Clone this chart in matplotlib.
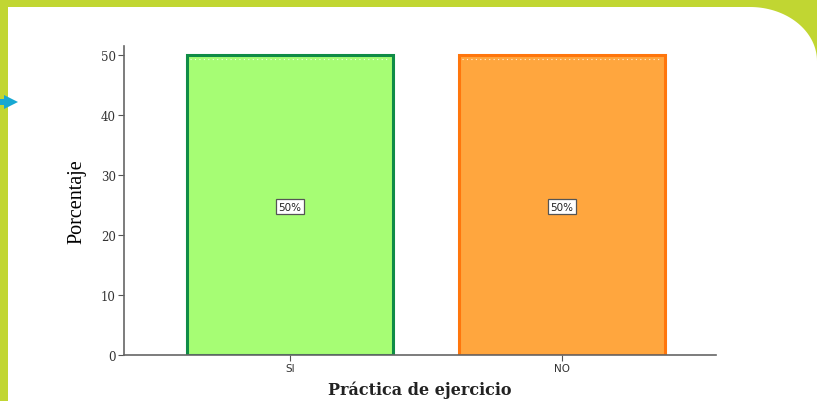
import numpy as np
import matplotlib
matplotlib.use('Agg')
import matplotlib.pyplot as plt
from matplotlib.patches import Polygon

categories = ['SI', 'NO']
porcentajes = [50, 50]
etiquetas = ['50%', '50%']
relleno = ['#a6fd74', '#ffa63e']
borde = ['#0f8c46', '#ff760c']
yticks = [0, 10, 20, 30, 40, 50]

W, H = 817, 402
fig = plt.figure(figsize=(W / 100, H / 100), dpi=100)
fig.patch.set_facecolor('#c1d632')

# white card with rounded top-right corner (pixel coords, y from top)
t = np.linspace(0, np.pi / 2, 40)
cx, cy, rx, ry = 750, 62, 67, 54
arc = [(cx + rx * np.sin(a), cy - ry * np.cos(a)) for a in t]
pts = [(8, 402), (8, 8)] + arc + [(817, 402)]
pts = [(x / W, 1 - y / H) for x, y in pts]
fig.patches.append(Polygon(pts, closed=True, transform=fig.transFigure,
                           facecolor='white', edgecolor='none', zorder=-2))

# small blue arrow on the left edge
flecha = [(0, 100), (4, 100), (4, 96), (18, 103), (4, 110), (4, 106), (0, 106)]
flecha = [(x / W, 1 - y / H) for x, y in flecha]
fig.patches.append(Polygon(flecha, closed=True, transform=fig.transFigure,
                           facecolor='#17a8d2', edgecolor='none', zorder=-1))

ax = fig.add_axes([124 / W, 46 / H, 592 / W, 309 / H])
ax.set_facecolor('none')
x = np.arange(len(categories))
bars = ax.bar(x, porcentajes, width=0.754, color=relleno, edgecolor=borde,
              linewidth=2.2, zorder=2)
for b in bars:
    # dotted highlight just under the top edge
    ax.plot([b.get_x() + 0.01, b.get_x() + b.get_width() - 0.01],
            [b.get_height() - 0.6] * 2, color='white', lw=0.8,
            ls=(0, (1, 3)), alpha=0.8, zorder=3)

for xi, v, lab in zip(x, porcentajes, etiquetas):
    ax.text(xi, v / 2 - 0.3, lab, ha='center', va='center', fontsize=7.5,
            family='DejaVu Sans', color='#222222', zorder=4,
            bbox=dict(boxstyle='square,pad=0.25', fc='white', ec='#555555', lw=0.9))

ax.set_xlim(-0.61, 1.566)
ax.set_ylim(0, 51.5)
ax.set_xticks(x)
ax.set_xticklabels(categories, fontsize=7.5, family='DejaVu Sans', color='#333333')
ax.set_yticks(yticks)
ax.set_yticklabels([str(v) for v in yticks], fontsize=8.5, family='DejaVu Serif',
                   color='#333333')
ax.tick_params(axis='both', length=4, width=0.8, color='#555555', pad=2)
for s in ['top', 'right']:
    ax.spines[s].set_visible(False)
for s in ['left', 'bottom']:
    ax.spines[s].set_color('#666666')
    ax.spines[s].set_linewidth(1.2)

ax.set_ylabel('Porcentaje', fontsize=14.5, family='Liberation Serif', labelpad=10)
ax.set_xlabel('Práctica de ejercicio', fontsize=11.5, family='DejaVu Serif',
              fontweight='bold', color='#222222', labelpad=5)

fig.savefig('out.png', dpi=100, facecolor=fig.get_facecolor())
